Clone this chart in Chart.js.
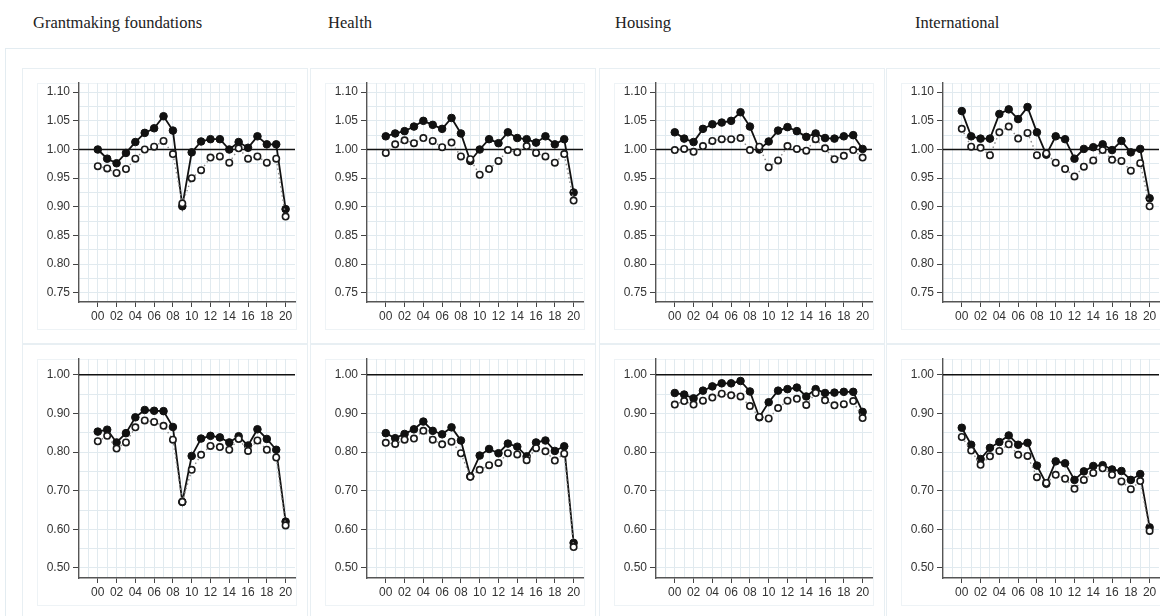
<!DOCTYPE html>
<html>
<head>
<meta charset="utf-8">
<script src="https://cdn.jsdelivr.net/npm/chart.js@4.4.1/dist/chart.umd.min.js"></script>
<style>
body{margin:0;width:1160px;height:616px;overflow:hidden;background:#fff;position:relative;}
.title{position:absolute;top:13px;font:16.5px 'Liberation Serif','Times New Roman',serif;color:#222;white-space:nowrap;}
.outer{position:absolute;left:5px;top:48px;width:1170px;height:580px;border:1px solid #e3ecf1;}
.panel{position:absolute;border:1px solid #e8eff3;}
.plotbox{position:absolute;border:1px solid #eef3f6;}
canvas{position:absolute;}
</style>
</head>
<body>
<div class="outer"></div>
<script>
const titles = ['Grantmaking foundations', 'Health', 'Housing', 'International'];
const yearLabels = ['00','01','02','03','04','05','06','07','08','09','10','11','12','13','14','15','16','17','18','19','20'];

// top row (y axis 0.75 - 1.10)
const grantTopSolid  = [1.000,0.984,0.976,0.994,1.013,1.029,1.037,1.058,1.033,0.901,0.995,1.014,1.018,1.018,1.000,1.013,1.003,1.023,1.009,1.009,0.896];
const grantTopHollow = [0.971,0.967,0.959,0.966,0.984,1.000,1.005,1.015,0.992,0.906,0.950,0.964,0.986,0.988,0.977,1.002,0.984,0.988,0.977,0.984,0.883];
const healthTopSolid  = [1.023,1.028,1.032,1.040,1.050,1.043,1.036,1.055,1.028,0.980,1.000,1.018,1.011,1.030,1.020,1.018,1.012,1.023,1.009,1.018,0.925];
const healthTopHollow = [0.994,1.009,1.016,1.011,1.020,1.015,1.004,1.012,0.988,0.983,0.956,0.966,0.980,0.999,0.995,1.006,0.994,0.988,0.977,0.992,0.911];
const housingTopSolid  = [1.030,1.019,1.013,1.036,1.044,1.047,1.050,1.065,1.040,1.000,1.014,1.033,1.039,1.032,1.022,1.028,1.020,1.019,1.023,1.025,1.001];
const housingTopHollow = [0.999,1.001,0.996,1.006,1.015,1.018,1.018,1.020,0.999,1.005,0.969,0.981,1.006,1.001,0.998,1.018,1.002,0.983,0.989,0.999,0.986];
const intlTopSolid  = [1.067,1.023,1.019,1.019,1.062,1.070,1.053,1.074,1.030,0.991,1.023,1.018,0.984,1.001,1.004,1.009,0.999,1.015,0.995,1.001,0.915];
const intlTopHollow = [1.036,1.005,1.003,0.990,1.030,1.040,1.019,1.029,0.990,0.993,0.977,0.966,0.953,0.970,0.981,0.999,0.982,0.980,0.963,0.976,0.901];

// bottom row (y axis 0.50 - 1.00)
const grantBotSolid  = [0.853,0.858,0.825,0.849,0.890,0.909,0.907,0.906,0.865,0.671,0.790,0.835,0.842,0.838,0.825,0.841,0.817,0.859,0.834,0.806,0.620];
const grantBotHollow = [0.828,0.842,0.809,0.825,0.864,0.882,0.878,0.868,0.832,0.671,0.754,0.793,0.816,0.813,0.806,0.834,0.803,0.830,0.806,0.786,0.610];
const healthBotSolid  = [0.849,0.836,0.847,0.859,0.879,0.855,0.846,0.864,0.830,0.737,0.791,0.808,0.797,0.822,0.814,0.789,0.825,0.830,0.803,0.815,0.565];
const healthBotHollow = [0.824,0.821,0.832,0.835,0.855,0.832,0.820,0.827,0.797,0.736,0.754,0.766,0.772,0.797,0.794,0.779,0.810,0.802,0.778,0.796,0.554];
const housingBotSolid  = [0.953,0.949,0.939,0.959,0.970,0.978,0.978,0.984,0.957,0.890,0.929,0.959,0.963,0.967,0.944,0.963,0.953,0.954,0.956,0.956,0.904];
const housingBotHollow = [0.923,0.932,0.923,0.933,0.941,0.951,0.947,0.944,0.919,0.891,0.887,0.914,0.933,0.938,0.922,0.953,0.934,0.921,0.924,0.932,0.888];
const intlBotSolid  = [0.863,0.819,0.782,0.811,0.826,0.843,0.819,0.824,0.765,0.718,0.776,0.771,0.728,0.750,0.764,0.766,0.755,0.751,0.728,0.743,0.605];
const intlBotHollow = [0.839,0.804,0.767,0.789,0.803,0.820,0.793,0.790,0.735,0.720,0.741,0.731,0.705,0.728,0.746,0.758,0.741,0.724,0.704,0.725,0.596];

const topTickLabels = ['0.75','0.80','0.85','0.90','0.95','1.00','1.05','1.10'];
const botTickLabels = ['0.50','0.60','0.70','0.80','0.90','1.00'];
const refLine = 1.00;

const rows = [
  {min: 0.734, max: 1.116, gridStep: 0.025, labels: topTickLabels, top: 83,
   series: [[grantTopSolid, grantTopHollow], [healthTopSolid, healthTopHollow], [housingTopSolid, housingTopHollow], [intlTopSolid, intlTopHollow]]},
  {min: 0.474, max: 1.041, gridStep: 0.05, labels: botTickLabels, top: 359,
   series: [[grantBotSolid, grantBotHollow], [healthBotSolid, healthBotHollow], [housingBotSolid, housingBotHollow], [intlBotSolid, intlBotHollow]]}
];
const axisX = [79, 367, 656, 943];
const titleX = [33, 328, 615, 915];
// the y axis reserves ~10px above the plot for its top label, so pad past it
const plotW = 216, plotH = 219, yAxisW = 49, xAxisH = 30, padTop = 11;

const refLinePlugin = {
  id: 'refLine',
  beforeDatasetsDraw(chart) {
    const {ctx, chartArea, scales} = chart;
    const y = scales.y.getPixelForValue(refLine);
    ctx.save();
    ctx.strokeStyle = '#111';
    ctx.lineWidth = 1.5;
    ctx.beginPath();
    ctx.moveTo(chartArea.left, y);
    ctx.lineTo(chartArea.right, y);
    ctx.stroke();
    ctx.restore();
  }
};

titles.forEach((t, i) => {
  const d = document.createElement('div');
  d.className = 'title';
  d.style.left = titleX[i] + 'px';
  d.textContent = t;
  document.body.appendChild(d);
});

const tickFont = {family: "'Liberation Sans', Arial, sans-serif", size: 12};
const transparent = 'rgba(0,0,0,0)';

rows.forEach((row, r) => {
  axisX.forEach((ax, c) => {
    // panel frame and plot frame
    const panel = document.createElement('div');
    panel.className = 'panel';
    panel.style.left = (ax - 57) + 'px';
    panel.style.top = (row.top - 15) + 'px';
    panel.style.width = '284px';
    panel.style.height = (r === 0 ? 274 : 290) + 'px';
    document.body.appendChild(panel);
    const pb = document.createElement('div');
    pb.className = 'plotbox';
    pb.style.left = (ax - 42) + 'px';
    pb.style.top = row.top + 'px';
    pb.style.width = (plotW + 42) + 'px';
    pb.style.height = (plotH + 26) + 'px';
    document.body.appendChild(pb);

    const cv = document.createElement('canvas');
    cv.width = yAxisW + plotW + 5;
    cv.height = padTop + plotH + xAxisH;
    cv.style.left = (ax - yAxisW) + 'px';
    cv.style.top = (row.top - padTop) + 'px';
    document.body.appendChild(cv);

    const [solid, hollow] = row.series[c];
    const toPts = arr => arr.map((v, i) => ({x: i, y: v}));

    new Chart(cv, {
      type: 'line',
      data: {
        datasets: [
          {
            data: toPts(hollow),
            borderColor: '#8a8a8a',
            borderWidth: 1.4,
            borderDash: [1.5, 3],
            pointRadius: 3.2,
            pointBackgroundColor: '#fff',
            pointBorderColor: '#1a1a1a',
            pointBorderWidth: 1.6,
            tension: 0
          },
          {
            data: toPts(solid),
            borderColor: '#111',
            borderWidth: 1.8,
            pointRadius: 3.8,
            pointBackgroundColor: '#111',
            pointBorderColor: '#111',
            pointBorderWidth: 1,
            tension: 0
          }
        ]
      },
      options: {
        responsive: false,
        animation: false,
        layout: {autoPadding: false, padding: {top: padTop, right: 5, left: 0, bottom: 0}},
        plugins: {legend: {display: false}, tooltip: {enabled: false}},
        scales: {
          x: {
            type: 'linear',
            min: -2,
            max: 21,
            afterBuildTicks: scale => {
              const t = [];
              for (let v = -2; v <= 21; v++) t.push({value: v});
              scale.ticks = t;
            },
            afterFit: scale => { scale.height = xAxisH; },
            ticks: {
              autoSkip: false,
              maxRotation: 0,
              minRotation: 0,
              padding: 2,
              color: '#333',
              font: tickFont,
              callback: v => {
                if (v < 0 || v > 20) return v === -1 ? '' : null;
                return v % 2 === 0 ? yearLabels[v] : '';
              }
            },
            grid: {
              color: ctx => (ctx.tick && ctx.tick.value > -2 && ctx.tick.value < 21) ? '#e1eaef' : transparent,
              tickColor: ctx => (ctx.tick && ctx.tick.value >= 0 && ctx.tick.value <= 20 && ctx.tick.value % 2 === 0) ? '#444' : transparent,
              tickLength: 5,
              lineWidth: 1
            },
            border: {color: '#555', width: 1.4}
          },
          y: {
            type: 'linear',
            min: row.min,
            max: row.max,
            afterBuildTicks: scale => {
              const t = [{value: row.min}];
              const lo = parseFloat(row.labels[0]);
              const hi = parseFloat(row.labels[row.labels.length - 1]);
              const n = Math.round((hi - lo) / row.gridStep);
              for (let k = 0; k <= n; k++) t.push({value: Math.round((lo + k * row.gridStep) * 1000) / 1000});
              t.push({value: row.max});
              scale.ticks = t;
            },
            afterFit: scale => { scale.width = yAxisW; },
            ticks: {
              autoSkip: false,
              padding: 3,
              color: '#333',
              font: tickFont,
              callback: v => {
                if (v === row.min || v === row.max) return null;
                const s = v.toFixed(2);
                return row.labels.includes(s) && Math.abs(parseFloat(s) - v) < 1e-6 ? s : '';
              }
            },
            grid: {
              color: ctx => (ctx.tick && ctx.tick.value !== row.min && ctx.tick.value !== row.max) ? '#e1eaef' : transparent,
              tickColor: ctx => (ctx.tick && ctx.tick.label) ? '#444' : transparent,
              tickLength: 6,
              lineWidth: 1
            },
            border: {color: '#555', width: 1.4}
          }
        }
      },
      plugins: [refLinePlugin]
    });
  });
});
</script>
</body>
</html>
